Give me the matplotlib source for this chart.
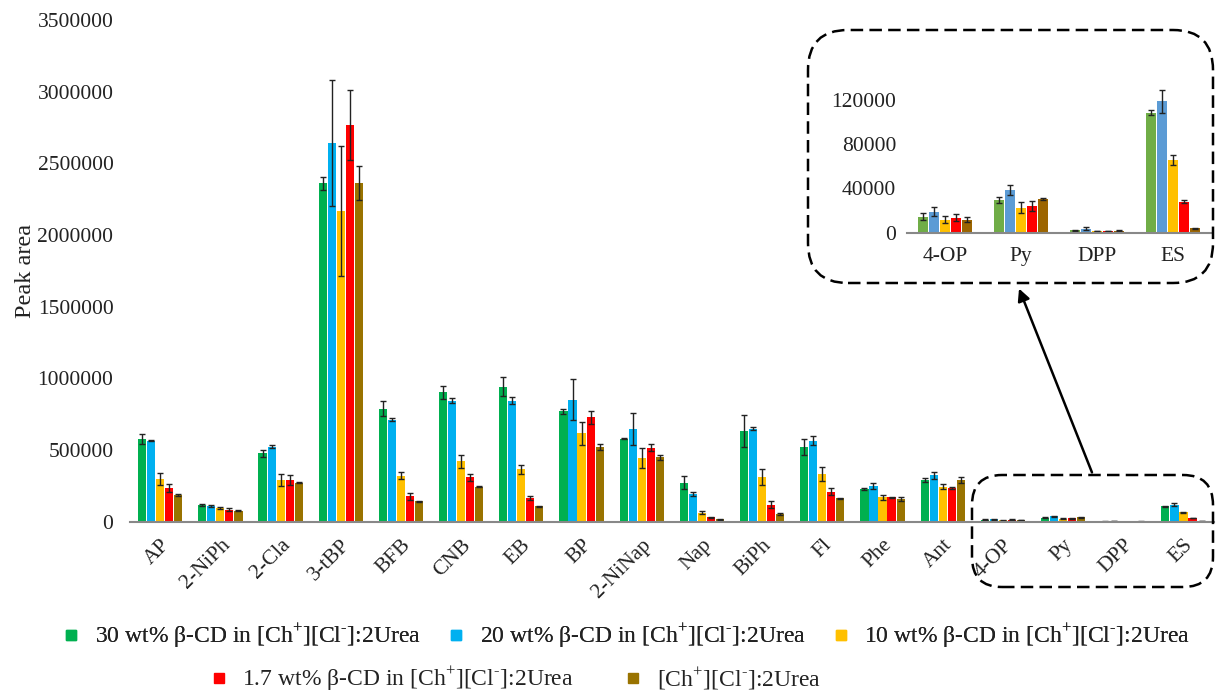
import numpy as np
import matplotlib
matplotlib.use("Agg")
import matplotlib.pyplot as plt
from matplotlib.patches import FancyBboxPatch, FancyArrowPatch
from matplotlib.lines import Line2D

plt.rcParams['font.family'] = ['Liberation Serif', 'DejaVu Serif']
plt.rcParams['mathtext.fontset'] = 'custom'
plt.rcParams['mathtext.rm'] = 'Liberation Serif'

compounds = ['AP', '2-NiPh', '2-Cla', '3-tBP', 'BFB', 'CNB', 'EB', 'BP', '2-NiNap',
             'Nap', 'BiPh', 'Fl', 'Phe', 'Ant', '4-OP', 'Py', 'DPP', 'ES']

ion = r'[Ch$^{+}$][Cl$^{\text{-}}$]:2Urea'
labels = ['30 wt% β-CD in ' + ion,
          '20 wt% β-CD in ' + ion,
          '10 wt% β-CD in ' + ion,
          '1.7 wt% β-CD in ' + ion,
          ion]

# peak areas, one list per medium
cd30 = [581000, 119000, 479000, 2362000, 790000, 905000, 944000, 770000, 581000,
        274000, 635000, 521000, 228000, 293000, 14500, 29500, 2400, 108500]
cd20 = [567000, 112000, 525000, 2641000, 711000, 846000, 846000, 851000, 649000,
        193000, 649000, 567000, 251000, 326000, 19000, 39000, 3900, 118500]
cd10 = [298000, 95000, 293000, 2167000, 321000, 421000, 367000, 618000, 444000,
        65000, 312000, 335000, 170000, 246000, 12000, 22600, 1800, 66000]
cd17 = [237000, 86000, 293000, 2767000, 177000, 312000, 167000, 730000, 518000,
        32000, 119000, 209000, 172000, 235000, 13600, 24400, 1800, 28000]
des = [188000, 79000, 274000, 2362000, 142000, 246000, 107000, 521000, 449000,
       17000, 56000, 163000, 158000, 293000, 12000, 30500, 2000, 4000]

err30 = [35000, 8000, 25000, 46000, 50000, 45000, 65000, 20000, 5000,
         46000, 110000, 55000, 5000, 12000, 3000, 3000, 500, 2500]
err20 = [5000, 8000, 10000, 440000, 10000, 15000, 25000, 142000, 113000,
         15000, 10000, 30000, 20000, 25000, 4000, 4500, 1000, 10000]
err10 = [40000, 5000, 40000, 453000, 25000, 45000, 30000, 81000, 70000,
         8000, 55000, 50000, 15000, 20000, 3000, 5000, 300, 4500]
err17 = [30000, 12000, 35000, 246000, 25000, 25000, 12000, 46000, 25000,
         5000, 25000, 25000, 3000, 5000, 3000, 4500, 300, 1500]
errdes = [5000, 5000, 5000, 118000, 5000, 5000, 5000, 20000, 15000,
          3000, 5000, 5000, 15000, 20000, 2000, 500, 300, 500]

series = [cd30, cd20, cd10, cd17, des]
errors = [err30, err20, err10, err17, errdes]
main_colors = ['#00B050', '#00B0F0', '#FFC000', '#FF0000', '#997300']
inset_colors = ['#70AD47', '#5B9BD5', '#FFC000', '#FF0000', '#9C6500']

fig = plt.figure(figsize=(12.16, 6.93), dpi=100)
ax = fig.add_axes([0.107, 0.247, 0.891, 0.724])

x = np.arange(len(compounds))
step = 0.15
for i, (vals, err, c) in enumerate(zip(series, errors, main_colors)):
    ax.bar(x + (i - 2) * step, vals, width=0.135, color=c, yerr=err, capsize=2.5,
           error_kw=dict(ecolor='#222222', elinewidth=1, capthick=1))

ax.set_xlim(-0.5, len(compounds) - 0.5)
ax.set_ylim(0, 3500000)
ax.set_yticks(np.arange(0, 3500001, 500000))
ax.ticklabel_format(axis='y', style='plain')
ax.set_xticks(x)
ax.set_xticklabels(compounds, rotation=45, ha='right', rotation_mode='anchor')
ax.tick_params(axis='both', length=0, labelsize=15.5, colors='#222222')
ax.tick_params(axis='x', pad=10)
ax.tick_params(axis='y', pad=12)
for s in ['top', 'right', 'left']:
    ax.spines[s].set_visible(False)
ax.spines['bottom'].set_color('#888888')
ax.spines['bottom'].set_linewidth(1.5)
ax.set_ylabel('Peak area', fontsize=17.5, color='#222222', labelpad=1)

# inset with the four small compounds
ins = fig.add_axes([0.746, 0.664, 0.250, 0.224])
xi = np.arange(4)
for i, (vals, err, c) in enumerate(zip(series, errors, inset_colors)):
    ins.bar(xi + (i - 2) * 0.145, vals[14:], width=0.13, color=c, yerr=err[14:],
            capsize=2.5, error_kw=dict(ecolor='#222222', elinewidth=1, capthick=1))
ins.set_xlim(-0.5, 3.5)
ins.set_ylim(0, 140000)
ins.set_yticks([0, 40000, 80000, 120000])
ins.set_xticks(xi)
ins.set_xticklabels(compounds[14:])
ins.tick_params(axis='both', length=0, labelsize=15.5, colors='#222222')
ins.tick_params(axis='x', pad=10)
ins.tick_params(axis='y', pad=8)
ins.patch.set_alpha(0)
for s in ['top', 'right', 'left']:
    ins.spines[s].set_visible(False)
ins.spines['bottom'].set_color('#888888')
ins.spines['bottom'].set_linewidth(1.5)

# dashed rounded boxes and arrow
dash = (0, (5, 2.5))
big = FancyBboxPatch((8.08, 4.10), 4.05, 2.53, boxstyle='round,pad=0,rounding_size=0.4',
                     transform=fig.dpi_scale_trans, fill=False, ec='black', lw=1.8, ls=dash)
small = FancyBboxPatch((9.72, 1.06), 2.41, 1.12, boxstyle='round,pad=0,rounding_size=0.3',
                       transform=fig.dpi_scale_trans, fill=False, ec='black', lw=1.8, ls=dash)
fig.add_artist(big)
fig.add_artist(small)
arrow = FancyArrowPatch((10.93, 2.18), (10.18, 4.07), arrowstyle='-|>', mutation_scale=18,
                        lw=1.8, color='black', transform=fig.dpi_scale_trans)
fig.add_artist(arrow)

# legend in two centred rows
handles = [Line2D([], [], marker='s', ls='none', color=c, markersize=7) for c in main_colors]
leg1 = fig.legend(handles[:3], labels[:3], ncol=3, loc='center',
                  bbox_to_anchor=(626 / 1216, 1 - 636 / 693), frameon=False, fontsize=17,
                  handlelength=0.8, handletextpad=0.6, columnspacing=1.1, borderpad=0.2)
leg2 = fig.legend(handles[3:], labels[3:], ncol=2, loc='center',
                  bbox_to_anchor=(515 / 1216, 1 - 679 / 693), frameon=False, fontsize=17,
                  handlelength=0.8, handletextpad=0.6, columnspacing=2.1, borderpad=0.2)
fig.add_artist(leg1)
for t in leg1.get_texts() + leg2.get_texts():
    t.set_color('#222222')

fig.savefig('out.png', dpi=100)
